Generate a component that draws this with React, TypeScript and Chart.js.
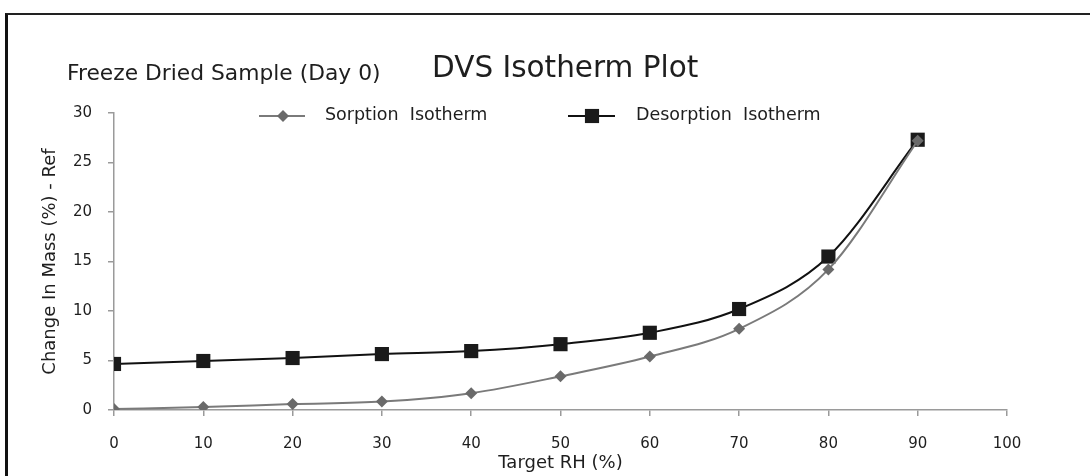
import React, { useEffect, useRef } from "react";
import { Chart, registerables } from "chart.js";

Chart.register(...registerables);

const rhValues = [0, 10, 20, 30, 40, 50, 60, 70, 80, 90];
const sorption = [0.1, 0.3, 0.6, 0.85, 1.7, 3.4, 5.4, 8.2, 14.2, 27.2];
const desorption = [4.65, 4.95, 5.25, 5.65, 5.95, 6.65, 7.8, 10.2, 15.5, 27.3];
const mainTitle = "DVS Isotherm Plot";
const subTitle = "Freeze Dried Sample (Day 0)";
const seriesNames = ["Sorption  Isotherm", "Desorption  Isotherm"];
const xTitle = "Target RH (%)";
const yTitle = "Change In Mass (%) - Ref";

const SORP_LINE = "#7a7a7a";
const SORP_MARK = "#6a6a6a";
const DES_LINE = "#111111";
const DES_MARK = "#1a1a1a";
const AXIS = "#9a9a9a";
const TEXT = "#1e1e1e";
const TEXT_FONT = "'DejaVu Sans', Verdana, sans-serif";
const TICK_FONT = "'DejaVu Sans', Verdana, sans-serif";

function drawMarker(ctx: CanvasRenderingContext2D, style: string, r: number, x: number, y: number) {
  const s = Math.SQRT1_2 * r;
  ctx.beginPath();
  if (style === "rect") {
    ctx.rect(x - s, y - s, 2 * s, 2 * s);
  } else {
    ctx.moveTo(x, y - r);
    ctx.lineTo(x + r, y);
    ctx.lineTo(x, y + r);
    ctx.lineTo(x - r, y);
    ctx.closePath();
  }
  ctx.fill();
}

const overlayPlugin = {
  id: "overlay",
  afterDraw(chart: any) {
    const ctx = chart.ctx;
    ctx.save();
    ctx.fillStyle = TEXT;
    ctx.textBaseline = "alphabetic";
    ctx.textAlign = "left";
    ctx.font = `21.8px ${TEXT_FONT}`;
    ctx.fillText(subTitle, 67, 80);
    ctx.font = `29.5px ${TEXT_FONT}`;
    ctx.fillText(mainTitle, 432, 77);

    const items = [
      { x0: 259, x1: 305, mx: 283, text: 325, line: SORP_LINE, mark: SORP_MARK, style: "rectRot", r: 6, name: seriesNames[0] },
      { x0: 568, x1: 615, mx: 592, text: 636, line: DES_LINE, mark: DES_MARK, style: "rect", r: 10, name: seriesNames[1] },
    ];
    const ly = 116;
    for (const it of items) {
      ctx.strokeStyle = it.line;
      ctx.lineWidth = 2;
      ctx.beginPath();
      ctx.moveTo(it.x0, ly);
      ctx.lineTo(it.x1, ly);
      ctx.stroke();
      ctx.fillStyle = it.mark;
      drawMarker(ctx, it.style, it.r, it.mx, ly);
      ctx.fillStyle = TEXT;
      ctx.font = `17.5px ${TEXT_FONT}`;
      ctx.textBaseline = "middle";
      ctx.fillText(it.name, it.text, ly - 1);
    }
    ctx.restore();
  },
};

export default function App() {
  const ref = useRef<HTMLCanvasElement | null>(null);

  useEffect(() => {
    if (!ref.current) return;
    const chart = new Chart(ref.current, {
      type: "line",
      data: {
        datasets: [
          {
            label: seriesNames[0],
            data: rhValues.map((x, i) => ({ x, y: sorption[i] })),
            borderColor: SORP_LINE,
            backgroundColor: SORP_MARK,
            borderWidth: 2,
            pointStyle: "rectRot",
            pointRadius: 6,
            pointBorderWidth: 0,
            pointBackgroundColor: SORP_MARK,
            cubicInterpolationMode: "monotone",
          },
          {
            label: seriesNames[1],
            data: rhValues.map((x, i) => ({ x, y: desorption[i] })),
            borderColor: DES_LINE,
            backgroundColor: DES_MARK,
            borderWidth: 2,
            pointStyle: "rect",
            pointRadius: 10,
            pointBorderWidth: 0,
            pointBackgroundColor: DES_MARK,
            cubicInterpolationMode: "monotone",
          },
        ],
      },
      options: {
        responsive: false,
        animation: false,
        events: [],
        layout: { padding: { top: 113, right: 83, left: 0, bottom: 0 } },
        plugins: {
          legend: { display: false },
          title: { display: false },
          tooltip: { enabled: false },
        },
        scales: {
          x: {
            type: "linear",
            min: 0,
            max: 100,
            afterFit: (s: any) => {
              s.height = 66;
            },
            ticks: {
              stepSize: 10,
              color: TEXT,
              font: { family: TICK_FONT, size: 15 },
              padding: 19,
              maxRotation: 0,
            },
            grid: {
              drawOnChartArea: false,
              drawTicks: true,
              tickLength: 6,
              color: AXIS,
              lineWidth: 1.5,
            },
            border: { color: AXIS, width: 1.5 },
            title: {
              display: true,
              text: xTitle,
              color: TEXT,
              font: { family: TEXT_FONT, size: 18 },
              padding: { top: 0, bottom: 2 },
            },
          },
          y: {
            min: 0,
            max: 30,
            afterFit: (s: any) => {
              s.width = 114;
            },
            ticks: {
              stepSize: 5,
              color: TEXT,
              font: { family: TICK_FONT, size: 15 },
              padding: 16,
            },
            grid: {
              drawOnChartArea: false,
              drawTicks: true,
              tickLength: 6,
              color: AXIS,
              lineWidth: 1.5,
            },
            border: { color: AXIS, width: 1.5 },
            title: {
              display: true,
              text: yTitle,
              color: TEXT,
              font: { family: TEXT_FONT, size: 18 },
              padding: { top: 40, bottom: 0 },
            },
          },
        },
      },
      plugins: [overlayPlugin],
    });
    return () => chart.destroy();
  }, []);

  return (
    <div>
      <div
        style={{
          position: "fixed",
          left: 5,
          top: 13,
          width: 1200,
          height: 600,
          borderTop: "2px solid #222",
          borderLeft: "3px solid #111",
          boxSizing: "border-box",
        }}
      />
      <canvas
        ref={ref}
        width={1090}
        height={476}
        style={{ position: "fixed", left: 0, top: 0, width: 1090, height: 476 }}
      />
    </div>
  );
}
